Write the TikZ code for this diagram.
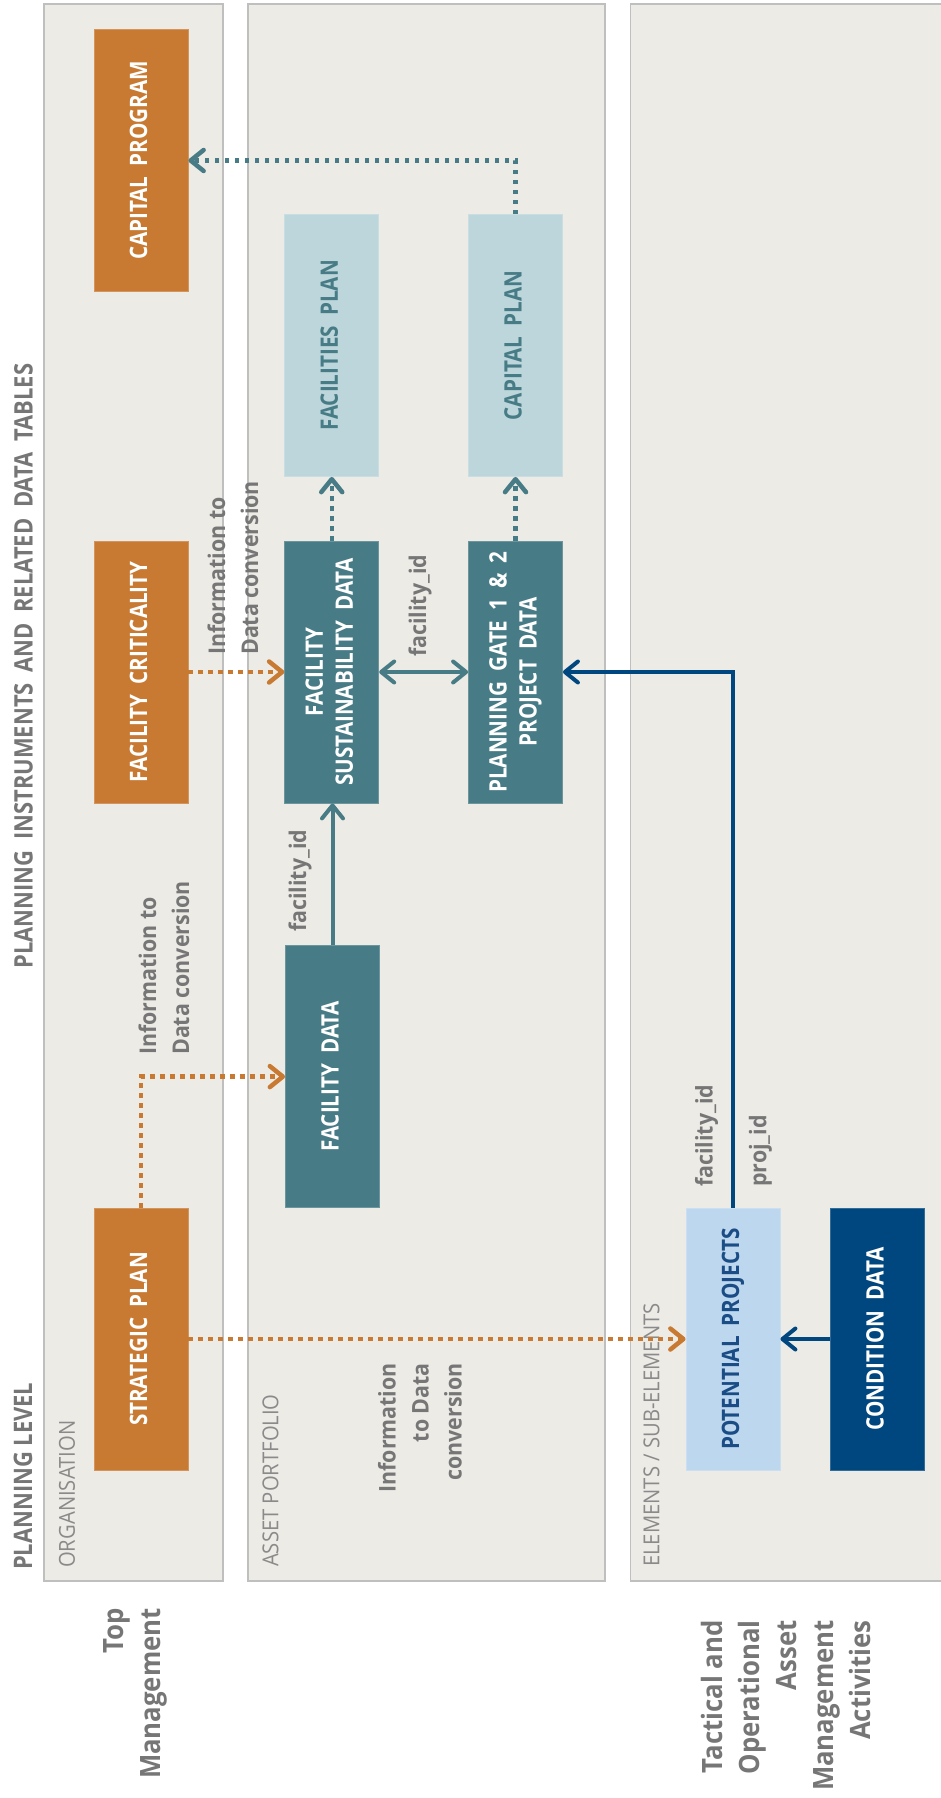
\documentclass[tikz,border=0pt]{standalone}
\usepackage{fontspec}
\setmainfont[FakeStretch=0.92]{Open Sans}
\newfontfamily\semib[FakeStretch=0.86]{Open Sans}
\newfontfamily\labf[FakeStretch=0.93]{Open Sans}
\usetikzlibrary{arrows.meta}
\definecolor{orng}{HTML}{C87A33}
\definecolor{tealc}{HTML}{477B85}
\definecolor{lteal}{HTML}{BCD6DB}
\definecolor{lblue}{HTML}{BDD7EE}
\definecolor{dblue}{HTML}{00467F}
\definecolor{pptext}{HTML}{1A4C86}
\definecolor{panelfill}{HTML}{EDEBE6}
\definecolor{panelline}{HTML}{BFBFBF}
\definecolor{labgray}{HTML}{767676}
\definecolor{sectgray}{HTML}{8A8A8A}
\newcommand\wsp{\spaceskip=0.42em plus 0.1em\relax}
\newcommand\rt[1]{\rotatebox{90}{\wsp\begin{tabular}{@{}c@{}}#1\end{tabular}}}
\tikzset{
  panel/.style={draw=panelline, fill=panelfill, line width=1.2pt},
  box/.style={rectangle, inner sep=0pt, minimum width=94pt, minimum height=262pt,
    fill=#1, draw=#1!80!white, line width=0.8pt,
    font=\semib\bfseries\fontsize{24pt}{30pt}\selectfont},
  lbl/.style={rotate=90, inner sep=0pt, text=labgray,
    font=\labf\bfseries\fontsize{23pt}{33pt}\selectfont},
  big/.style={rotate=90, inner sep=0pt, text=labgray, align=right,
    font=\bfseries\fontsize{28pt}{37pt}\selectfont},
  sect/.style={rotate=90, inner sep=0pt, text=sectgray, anchor=west,
    font=\fontsize{22pt}{26pt}\selectfont},
  ttl/.style={rotate=90, inner sep=0pt, text=labgray,
    font=\semib\bfseries\fontsize{25.5pt}{30pt}\selectfont},
  arr/.style={-{Straight Barb[length=13pt,width=21pt,round]}},
  dotline/.style={arr, line width=4.5pt, dash pattern=on 4.5pt off 5.5pt},
  solidline/.style={arr, line width=4pt},
}
\begin{document}
\begin{tikzpicture}[x=1pt,y=-1pt]
\useasboundingbox (0,0) rectangle (941,1798);
\fill[white] (0,0) rectangle (941,1798);
% panels
\draw[panel] (44,4) rectangle (223,1581);
\draw[panel] (248,4) rectangle (605,1581);
\draw[panel] (630.5,4) rectangle (950,1581);
% titles
\node[ttl] (title) at (23.5,666) {\wsp PLANNING INSTRUMENTS AND RELATED DATA TABLES};
\node[ttl, anchor=west] (plevel) at (23,1570) {PLANNING LEVEL};
\node[sect] (org) at (67,1568) {ORGANISATION};
\node[sect] (ap) at (270.5,1567) {ASSET PORTFOLIO};
\node[sect] (el) at (651.5,1567) {ELEMENTS / SUB-ELEMENTS};
% boxes
\node[box=orng, text=white] (capprog) at (141,160.5) {\rt{CAPITAL PROGRAM}};
\node[box=orng, text=white] (faccrit) at (141,672) {\rt{FACILITY CRITICALITY}};
\node[box=orng, text=white] (strat) at (141,1339) {\rt{STRATEGIC PLAN}};
\node[box=lteal, text=tealc] (facplan) at (331.75,345.5) {\rt{FACILITIES PLAN}};
\node[box=tealc, text=white] (fsd) at (331.75,672) {\rt{FACILITY\\SUSTAINABILITY DATA}};
\node[box=tealc, text=white] (fdata) at (332.5,1076.6) {\rt{FACILITY DATA}};
\node[box=lteal, text=tealc] (capplan) at (515.5,345.5) {\rt{CAPITAL PLAN}};
\node[box=tealc, text=white] (pg) at (515.5,672) {\rt{PLANNING GATE 1 \& 2\\PROJECT DATA}};
\node[box=lblue, text=pptext] (pp) at (733,1339) {\rt{POTENTIAL PROJECTS}};
\node[box=dblue, text=white] (cond) at (877.5,1339) {\rt{CONDITION DATA}};
% labels
\node[lbl, anchor=west, align=left] (info1) at (233,655) {Information to\\Data conversion};
\node[lbl, anchor=west, align=left] (info2) at (164,1055) {Information to\\Data conversion};
\node[lbl, anchor=east, align=right] (info3) at (420,1363) {Information\\to Data\\conversion};
\node[lbl, anchor=west] (fid1) at (300,932) {facility\_id};
\node[lbl, anchor=west] (fid2) at (420,657) {facility\_id};
\node[lbl, anchor=west] (fid3) at (706.5,1187) {facility\_id};
\node[lbl, anchor=west] (pid) at (760.5,1187) {proj\_id};
\node[big, anchor=east] (topm) at (135,1608) {Top\\Management};
\node[big, anchor=east] (tact) at (786,1620) {Tactical and\\Operational\\Asset\\Management\\Activities};
% connectors
\draw[dotline, draw=tealc] (capplan.north) |- (capprog.east);
\draw[dotline, draw=tealc] (fsd.north) -- (facplan.south);
\draw[dotline, draw=tealc] (pg.north) -- (capplan.south);
\draw[dotline, draw=orng] (faccrit.east) -- (fsd.west);
\draw[solidline, draw=tealc, {Straight Barb[length=13pt,width=21pt,round]}-{Straight Barb[length=13pt,width=21pt,round]}] (fsd.east) -- (pg.west);
\draw[solidline, draw=tealc] (fdata.north) -- (fdata.north |- fsd.south);
\draw[dotline, draw=orng] (strat.north) |- (fdata.west);
\draw[dotline, draw=orng] (strat.east) -- (pp.west);
\draw[solidline, draw=dblue] (cond.west) -- (pp.east);
\draw[solidline, draw=dblue] (pp.north) |- (pg.east);
\end{tikzpicture}
\end{document}
